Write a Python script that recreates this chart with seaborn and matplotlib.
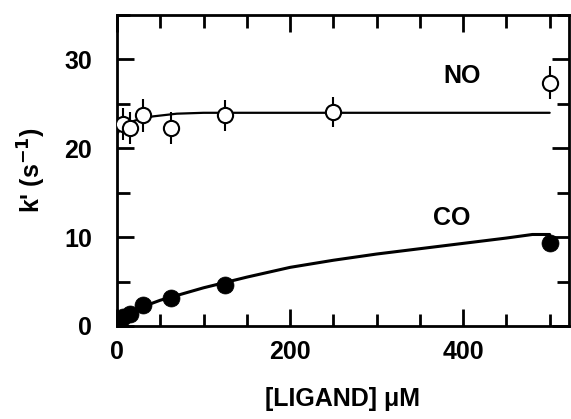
import matplotlib
matplotlib.use("Agg")
import matplotlib.pyplot as plt
import seaborn as sns
import pandas as pd
from matplotlib.ticker import MultipleLocator

# ---- data ----
no_x = [7, 15, 30, 62, 125, 250, 500]
no_y = [22.7, 22.3, 23.7, 22.3, 23.7, 24.1, 27.4]
no_err = [1.8, 1.8, 1.9, 1.8, 1.7, 1.7, 1.9]

co_x = [2, 7, 15, 30, 62, 125, 500]
co_y = [0.6, 1.0, 1.4, 2.4, 3.2, 4.6, 9.3]

# fitted curves
no_fit_x = [0, 5, 10, 20, 30, 42, 69, 100, 127, 200, 300, 400, 500]
no_fit_y = [21.6, 22.3, 22.7, 23.1, 23.4, 23.6, 23.9, 24.0, 24.0, 24.0, 24.0, 24.0, 24.0]
co_fit_x = [0, 10, 25, 50, 75, 100, 125, 150, 200, 250, 300, 350, 400, 450, 480, 500]
co_fit_y = [0.6, 1.3, 2.0, 2.9, 3.6, 4.3, 4.9, 5.5, 6.6, 7.4, 8.1, 8.7, 9.3, 9.9, 10.3, 10.3]

x_ticks = [0, 200, 400]
y_ticks = [0, 10, 20, 30]

sns.set_style("ticks")
plt.rcParams["font.family"] = ["Liberation Sans", "DejaVu Sans"]
plt.rcParams["font.weight"] = "bold"
plt.rcParams["mathtext.default"] = "bf"
for k in ["text.color", "axes.labelcolor", "xtick.color", "ytick.color", "axes.edgecolor"]:
    plt.rcParams[k] = "black"

fig = plt.figure(figsize=(5.71, 4.19), dpi=100)
ax = fig.add_axes([0.205, 0.222, 0.791, 0.742])

no_df = pd.DataFrame({"x": no_x, "y": no_y})
co_df = pd.DataFrame({"x": co_x, "y": co_y})
no_fit = pd.DataFrame({"x": no_fit_x, "y": no_fit_y})
co_fit = pd.DataFrame({"x": co_fit_x, "y": co_fit_y})

sns.lineplot(data=no_fit, x="x", y="y", ax=ax, color="black", lw=1.6, zorder=2)
sns.lineplot(data=co_fit, x="x", y="y", ax=ax, color="black", lw=2.2, zorder=2)

ax.errorbar(no_x, no_y, yerr=no_err, fmt="none", ecolor="black", elinewidth=1.5,
            capsize=0, zorder=3)
sns.scatterplot(data=no_df, x="x", y="y", ax=ax, marker="o", s=120,
                facecolor="white", edgecolor="black", linewidth=1.5, zorder=4)
sns.scatterplot(data=co_df, x="x", y="y", ax=ax, marker="o", s=150,
                color="black", edgecolor="black", linewidth=0.5, zorder=4)

ax.text(399, 28.1, "NO", ha="center", va="center", fontsize=18, fontweight="bold")
ax.text(387, 12.2, "CO", ha="center", va="center", fontsize=18, fontweight="bold")

ax.set_xlim(0, 522)
ax.set_ylim(0, 35)
ax.set_xticks(x_ticks)
ax.set_yticks(y_ticks)
ax.xaxis.set_minor_locator(MultipleLocator(50))
ax.yaxis.set_minor_locator(MultipleLocator(5))
ax.tick_params(which="both", direction="in", top=True, right=True, width=2,
               labelsize=18, colors="black")
ax.tick_params(axis="x", pad=10)
ax.tick_params(axis="y", pad=18)
ax.tick_params(which="major", length=12)
ax.tick_params(which="minor", length=9)
for lab in ax.get_xticklabels() + ax.get_yticklabels():
    lab.set_fontweight("bold")
for sp in ax.spines.values():
    sp.set_linewidth(2)
    sp.set_color("black")

ax.set_xlabel("[LIGAND] μM", fontsize=18, fontweight="bold", labelpad=17)
ax.set_ylabel("k' (s$^{-1}$)", fontsize=18, fontweight="bold", labelpad=12)

fig.savefig("out.png", dpi=100)
